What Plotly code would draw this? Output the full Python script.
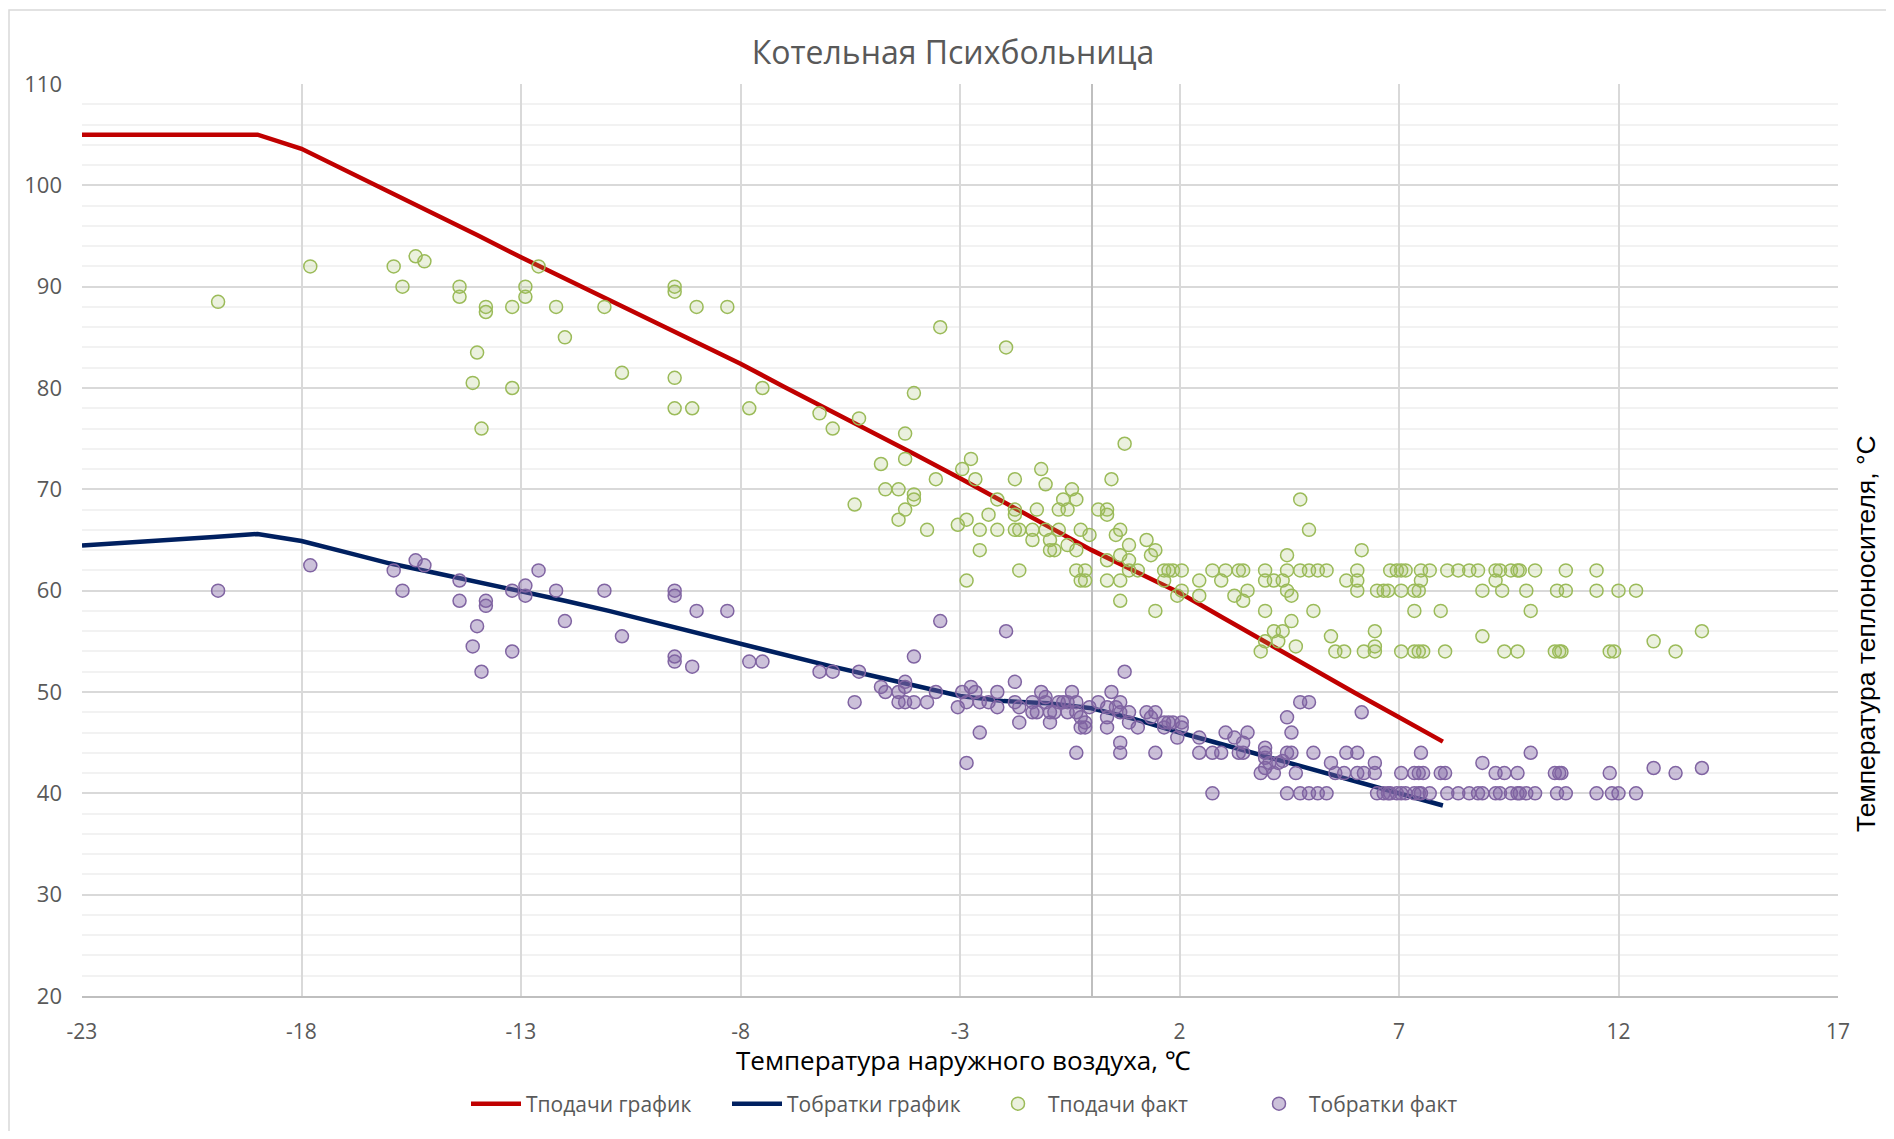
import plotly.graph_objects as go

# ---- schedule lines ----
schedule_x = list(range(-23, 9))
supply_schedule = [105, 105, 105, 105, 105, 103.6, 101.5, 99.4, 97.3, 95.1, 92.9, 90.8,
                   88.7, 86.6, 84.5, 82.4, 80.1, 77.9, 75.6, 73.4, 71.1, 68.7, 66.4, 64.0,
                   61.9, 59.8, 57.3, 54.8, 52.4, 49.9, 47.5, 45.1]
return_schedule = [64.45, 64.7, 65.0, 65.3, 65.6, 64.9, 63.8, 62.7, 61.8, 60.9, 60.0, 59.0,
                   58.0, 56.9, 55.8, 54.7, 53.7, 52.6, 51.6, 50.6, 49.6, 49.1, 48.9, 48.4,
                   47.3, 46.0, 44.8, 43.6, 42.4, 41.2, 40.0, 38.8]

# ---- measured points (outdoor temp, water temp) ----
supply_fact = [
    (-19.9, 88.5), (-17.8, 92), (-15.9, 92), (-15.7, 90), (-15.4, 93), (-15.2, 92.5),
    (-14.4, 90), (-14.4, 89), (-14.0, 83.5), (-14.1, 80.5), (-13.9, 76), (-13.8, 88),
    (-13.8, 87.5), (-13.2, 88), (-13.2, 80), (-12.9, 90), (-12.9, 89), (-12.6, 92),
    (-12.2, 88), (-12.0, 85), (-11.1, 88), (-10.7, 81.5), (-9.5, 90), (-9.5, 89.5),
    (-9.5, 81), (-9.5, 78), (-9.1, 78), (-9.0, 88), (-8.3, 88), (-7.8, 78), (-7.5, 80),
    (-6.2, 77.5), (-5.9, 76), (-5.3, 77), (-5.4, 68.5), (-4.8, 72.5), (-4.7, 70),
    (-4.4, 70), (-4.25, 75.5), (-4.25, 73), (-4.25, 68), (-4.05, 79.5), (-4.05, 69.5),
    (-4.05, 69), (-4.4, 67), (-3.75, 66), (-3.55, 71), (-3.45, 86), (-3.05, 66.5),
    (-2.95, 72), (-2.75, 73), (-2.65, 71), (-2.85, 67), (-2.85, 61), (-2.55, 66),
    (-2.55, 64), (-2.35, 67.5), (-2.15, 69), (-2.15, 66), (-1.95, 84), (-1.75, 71),
    (-1.75, 68), (-1.75, 67.5), (-1.75, 66), (-1.65, 66), (-1.65, 62), (-1.35, 66),
    (-1.35, 65), (-1.25, 68), (-1.15, 72), (-1.05, 70.5), (-1.05, 66), (-0.95, 65),
    (-0.95, 64), (-0.85, 64), (-0.75, 66), (-0.75, 68), (-0.65, 69), (-0.55, 68),
    (-0.55, 64.5), (-0.45, 70), (-0.35, 69), (-0.35, 64), (-0.35, 62), (-0.25, 66),
    (-0.25, 61), (-0.15, 62), (-0.15, 61), (-0.05, 65.5), (0.15, 68), (0.35, 68),
    (0.35, 67.5), (0.35, 63), (0.35, 61), (0.45, 71), (0.55, 65.5), (0.65, 66),
    (0.65, 63.5), (0.65, 61), (0.65, 59), (0.75, 74.5), (0.85, 64.5), (0.85, 63),
    (0.85, 62), (1.05, 62), (1.25, 65), (1.35, 63.5), (1.45, 64), (1.45, 58),
    (1.65, 62), (1.65, 61), (1.75, 62), (1.85, 62), (1.95, 59.5), (2.05, 62),
    (2.05, 60), (2.45, 61), (2.45, 59.5), (2.75, 62), (2.95, 61), (3.05, 62),
    (3.25, 59.5), (3.35, 62), (3.45, 62), (3.45, 59), (3.55, 60), (3.85, 54),
    (3.95, 62), (3.95, 61), (3.95, 58), (3.95, 55), (4.15, 61), (4.15, 56),
    (4.25, 55), (4.35, 61), (4.35, 56), (4.45, 63.5), (4.45, 62), (4.45, 60),
    (4.55, 59.5), (4.55, 57), (4.65, 54.5), (4.75, 69), (4.75, 62), (4.95, 66),
    (4.95, 62), (5.05, 58), (5.15, 62), (5.35, 62), (5.45, 55.5), (5.55, 54),
    (5.75, 54), (5.8, 61), (6.05, 62), (6.05, 61), (6.05, 60), (6.15, 64), (6.2, 54),
    (6.45, 56), (6.45, 54.5), (6.45, 54), (6.5, 60), (6.65, 60), (6.75, 60), (6.8, 62),
    (6.95, 62), (7.05, 62), (7.05, 60), (7.05, 54), (7.15, 62), (7.35, 60), (7.35, 58),
    (7.35, 54), (7.45, 60), (7.45, 54), (7.5, 62), (7.5, 61), (7.55, 54), (7.7, 62),
    (7.95, 58), (8.05, 54), (8.1, 62), (8.35, 62), (8.6, 62), (8.8, 62), (8.9, 60),
    (8.9, 55.5), (9.2, 62), (9.2, 61), (9.3, 62), (9.35, 60), (9.4, 54), (9.55, 62),
    (9.7, 62), (9.7, 54), (9.75, 62), (9.9, 60), (10.0, 58), (10.1, 62), (10.55, 54),
    (10.6, 60), (10.65, 54), (10.7, 54), (10.8, 62), (10.8, 60), (11.5, 62), (11.5, 60),
    (11.8, 54), (11.9, 54), (12.0, 60), (12.4, 60), (12.8, 55), (13.3, 54), (13.9, 56),
]

return_fact = [
    (-19.9, 60), (-17.8, 62.5), (-15.9, 62), (-15.7, 60), (-15.4, 63), (-15.2, 62.5),
    (-14.4, 61), (-14.4, 59), (-14.0, 56.5), (-14.1, 54.5), (-13.9, 52), (-13.8, 59),
    (-13.8, 58.5), (-13.2, 60), (-13.2, 54), (-12.9, 60.5), (-12.9, 59.5), (-12.6, 62),
    (-12.2, 60), (-12.0, 57), (-11.1, 60), (-10.7, 55.5), (-9.5, 60), (-9.5, 59.5),
    (-9.5, 53.5), (-9.5, 53), (-9.1, 52.5), (-9.0, 58), (-8.3, 58), (-7.8, 53),
    (-7.5, 53), (-6.2, 52), (-5.9, 52), (-5.3, 52), (-5.4, 49), (-4.8, 50.5),
    (-4.7, 50), (-4.4, 50), (-4.25, 51), (-4.25, 50.5), (-4.05, 53.5), (-4.4, 49),
    (-4.25, 49), (-4.05, 49), (-3.75, 49), (-3.55, 50), (-3.45, 57), (-3.05, 48.5),
    (-2.95, 50), (-2.85, 49), (-2.85, 43), (-2.75, 50.5), (-2.65, 50), (-2.55, 49),
    (-2.55, 46), (-2.35, 49), (-2.15, 50), (-2.15, 48.5), (-1.95, 56), (-1.75, 51),
    (-1.75, 49), (-1.65, 48.5), (-1.65, 47), (-1.35, 49), (-1.35, 48), (-1.25, 48),
    (-1.15, 50), (-1.05, 49.5), (-1.05, 49), (-0.95, 48), (-0.95, 47), (-0.85, 48),
    (-0.75, 49), (-0.65, 49), (-0.55, 49), (-0.55, 48), (-0.45, 50), (-0.35, 49),
    (-0.35, 48), (-0.35, 44), (-0.25, 47.5), (-0.25, 46.5), (-0.15, 47), (-0.15, 46.5),
    (-0.05, 48.5), (0.15, 49), (0.35, 48.5), (0.35, 47.5), (0.35, 46.5), (0.45, 50),
    (0.55, 48.5), (0.65, 49), (0.65, 48), (0.65, 45), (0.65, 44), (0.75, 52),
    (0.85, 48), (0.85, 47), (1.05, 46.5), (1.25, 48), (1.35, 47.5), (1.45, 48),
    (1.45, 44), (1.65, 47), (1.65, 46.5), (1.75, 47), (1.85, 47), (1.95, 45.5),
    (2.05, 47), (2.05, 46.5), (2.45, 45.5), (2.45, 44), (2.75, 44), (2.75, 40),
    (2.95, 44), (3.05, 46), (3.25, 45.5), (3.35, 44), (3.45, 45), (3.45, 44),
    (3.55, 46), (3.85, 42), (3.95, 44.5), (3.95, 44), (3.95, 43.5), (3.95, 42.5),
    (4.05, 43), (4.15, 42), (4.25, 43), (4.35, 43.2), (4.45, 47.5), (4.45, 44),
    (4.45, 40), (4.55, 46), (4.55, 44), (4.65, 42), (4.75, 49), (4.75, 40),
    (4.95, 49), (4.95, 40), (5.05, 44), (5.15, 40), (5.35, 40), (5.45, 43),
    (5.55, 42), (5.75, 42), (5.8, 44), (6.05, 44), (6.05, 42), (6.15, 48), (6.2, 42),
    (6.45, 43), (6.45, 42), (6.5, 40), (6.65, 40), (6.75, 40), (6.8, 40), (6.95, 40),
    (7.05, 42), (7.05, 40), (7.15, 40), (7.35, 42), (7.35, 40), (7.45, 42), (7.45, 40),
    (7.5, 44), (7.55, 42), (7.5, 40), (7.7, 40), (7.95, 42), (8.05, 42), (8.1, 40),
    (8.35, 40), (8.6, 40), (8.8, 40), (8.9, 43), (8.9, 40), (9.2, 42), (9.2, 40),
    (9.3, 40), (9.4, 42), (9.55, 40), (9.7, 42), (9.7, 40), (9.75, 40), (9.9, 40),
    (10.0, 44), (10.1, 40), (10.55, 42), (10.6, 40), (10.65, 42), (10.7, 42),
    (10.8, 40), (11.5, 40), (11.8, 42), (11.85, 40), (12.0, 40), (12.4, 40),
    (12.8, 42.5), (13.3, 42), (13.9, 42.5),
]

x_ticks = list(range(-23, 18, 5))
y_ticks = list(range(20, 111, 10))

title_text = "Котельная Психбольница"
x_title = "Температура наружного воздуха, ℃"
y_title = "Температура теплоносителя, °С"

FONT = "Open Sans, Noto Sans, sans-serif"

fig = go.Figure()
fig.add_trace(go.Scatter(x=schedule_x, y=supply_schedule, mode="lines",
                         name="Тподачи график", line=dict(color="#c00000", width=4.5)))
fig.add_trace(go.Scatter(x=schedule_x, y=return_schedule, mode="lines",
                         name="Тобратки график", line=dict(color="#002060", width=4.5)))
sx, sy = zip(*supply_fact)
rx, ry = zip(*return_fact)
fig.add_trace(go.Scatter(x=sx, y=sy, mode="markers", name="Тподачи факт",
                         marker=dict(symbol="circle", size=13,
                                     color="rgba(155,187,89,0.2)",
                                     line=dict(color="#9bbb59", width=1.5))))
fig.add_trace(go.Scatter(x=rx, y=ry, mode="markers", name="Тобратки факт",
                         marker=dict(symbol="circle", size=13,
                                     color="rgba(128,100,162,0.4)",
                                     line=dict(color="#8064a2", width=1.5))))

# page offset from the default 8px body margin of the html page
OFF = 8
W, H = 1894 - 2 * OFF, 1139 - 2 * OFF
PL, PT, PW, PH = 82, 84, 1756, 912          # plot area in page pixels
L, T = PL - OFF, PT - OFF
R = W - L - PW
B = H - T - PH

def px(xp):
    return (xp - PL) / PW

def py(yp):
    return (PT + PH - yp) / PH

def cx(xp):
    return (xp - OFF) / W

def cy(yp):
    return 1 - (yp - OFF) / H

fig.update_layout(
    width=W, height=H,
    margin=dict(l=L, r=R, t=T, b=B, autoexpand=False),
    paper_bgcolor="white", plot_bgcolor="white",
    font=dict(family=FONT, color="#595959"),
    title=dict(text=title_text, x=cx(953), xanchor="center", xref="container",
               y=cy(53), yanchor="middle", yref="container",
               font=dict(size=32, color="#595959", family=FONT)),
    xaxis=dict(range=[-23, 17], tickvals=x_ticks, ticktext=[str(v) for v in x_ticks],
               showgrid=True, gridcolor="#d9d9d9", gridwidth=2,
               zeroline=True, zerolinecolor="#bfbfbf", zerolinewidth=2,
               showline=True, linecolor="#bfbfbf", linewidth=2, automargin=False,
               ticks="", tickfont=dict(size=21, color="#595959"), ticklabelstandoff=16),
    yaxis=dict(range=[20, 110], tickvals=y_ticks, ticktext=[str(v) for v in y_ticks],
               showgrid=True, gridcolor="#d9d9d9", gridwidth=2,
               minor=dict(dtick=2, tick0=20, showgrid=True, gridcolor="#f2f2f2", gridwidth=2),
               zeroline=False, showline=False, automargin=False,
               ticks="", tickfont=dict(size=22, color="#595959"), ticklabelstandoff=19),
    legend=dict(orientation="h", xref="container", yref="container",
                x=cx(466), xanchor="left", y=cy(1104), yanchor="middle",
                font=dict(size=21, color="#595959", family=FONT), itemwidth=50,
                entrywidth=196, entrywidthmode="pixels", traceorder="normal"),
    showlegend=True,
)

fig.add_annotation(text=x_title, xref="paper", yref="paper", x=px(963), y=py(1060),
                   xanchor="center", yanchor="middle", showarrow=False,
                   font=dict(size=26, color="#000000", family=FONT))
fig.add_annotation(text=y_title, xref="paper", yref="paper", x=px(1866), y=py(634),
                   xanchor="center", yanchor="middle", showarrow=False, textangle=-90,
                   font=dict(size=26.5, color="#000000", family="Liberation Sans, Arial, sans-serif"))
fig.add_shape(type="rect", xref="paper", yref="paper", x0=px(9), x1=px(1900),
              y0=py(1133), y1=py(10), line=dict(color="#d9d9d9", width=1.5),
              fillcolor="rgba(0,0,0,0)", layer="below")

fig.write_html("out.html")
